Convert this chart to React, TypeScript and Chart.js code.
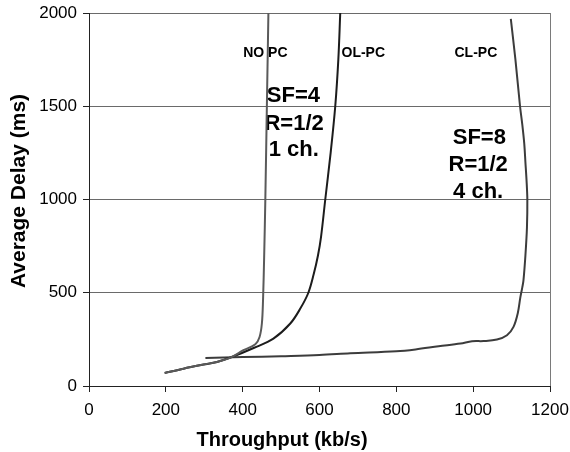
import React, { useEffect, useRef } from 'react';
import { Chart, registerables } from 'chart.js';

Chart.register(...registerables);

// ---- data (throughput kb/s, average delay ms) ----
const noPcThroughput = [197, 246, 298, 333, 368, 402, 433, 444, 450, 453, 456, 459, 463, 467];
const noPcDelay = [70, 93, 115, 129, 152, 192, 224, 263, 335, 460, 700, 1000, 1500, 2000];

const olPcThroughput = [197, 246, 298, 333, 370, 430, 480, 524, 550, 571, 585, 596, 604, 615, 629, 641, 649, 654];
const olPcDelay = [70, 93, 115, 129, 154, 205, 254, 335, 415, 500, 600, 700, 800, 1000, 1250, 1500, 1750, 2000];

const clPcThroughput = [303, 400, 500, 600, 680, 800, 850, 910, 967, 997, 1027, 1062, 1088, 1105, 1116, 1123, 1128, 1131, 1136, 1140, 1141, 1139, 1136, 1133, 1128, 1122, 1110, 1098];
const clPcDelay = [150, 155, 160, 166, 175, 186, 196, 213, 228, 240, 241, 249, 272, 317, 389, 478, 530, 568, 700, 850, 1000, 1100, 1200, 1300, 1400, 1500, 1750, 1968];

const seriesNames = ['NO PC', 'OL-PC', 'CL-PC'];
const seriesColors = ['#5a5a5a', '#1c1c1c', '#3c3c3c'];

const xTickValues = [0, 200, 400, 600, 800, 1000, 1200];
const yTickValues = [0, 500, 1000, 1500, 2000];

const xTitle = 'Throughput (kb/s)';
const yTitle = 'Average Delay (ms)';

// annotation texts anchored in data coordinates
const noteTexts = ['NO PC', 'OL-PC', 'CL-PC', 'SF=4', 'R=1/2', '1 ch.', 'SF=8', 'R=1/2', '4 ch.'];
const noteX = [459, 714, 1007, 532, 534, 533, 1016, 1013, 1013];
const noteY = [1786, 1786, 1786, 1555, 1407, 1265, 1330, 1185, 1040];
const noteSize = [14, 14, 14, 22, 22, 22, 22, 22, 22];

const FONT = '"Liberation Sans", Arial, Helvetica, sans-serif';

function toPoints(xs: number[], ys: number[]) {
  return xs.map((x, i) => ({ x, y: ys[i] }));
}

const textPlugin = {
  id: 'textPlugin',
  beforeDraw(chart: any) {
    const { ctx, scales } = chart;
    const xs = scales.x;
    const ys = scales.y;
    ctx.save();
    ctx.fillStyle = '#000';
    ctx.textAlign = 'center';
    ctx.textBaseline = 'middle';
    noteTexts.forEach((t, i) => {
      ctx.font = `bold ${noteSize[i]}px ${FONT}`;
      ctx.fillText(t, xs.getPixelForValue(noteX[i]), ys.getPixelForValue(noteY[i]));
    });
    // axis titles
    ctx.font = `bold 20px ${FONT}`;
    ctx.fillText(xTitle, 282, 440);
    ctx.translate(19, 191);
    ctx.rotate(-Math.PI / 2);
    ctx.font = `bold 21px ${FONT}`;
    ctx.fillText(yTitle, 0, 0);
    ctx.restore();
  },
};

export default function App() {
  const ref = useRef<HTMLCanvasElement | null>(null);

  useEffect(() => {
    if (!ref.current) return;
    const datasets = [
      toPoints(noPcThroughput, noPcDelay),
      toPoints(olPcThroughput, olPcDelay),
      toPoints(clPcThroughput, clPcDelay),
    ].map((data, i) => ({
      label: seriesNames[i],
      data,
      showLine: true,
      borderColor: seriesColors[i],
      backgroundColor: seriesColors[i],
      borderWidth: 2,
      pointRadius: 0,
      tension: 0.35,
      fill: false,
    }));

    const chart = new Chart(ref.current, {
      type: 'scatter',
      data: { datasets },
      plugins: [textPlugin],
      options: {
        responsive: false,
        animation: false,
        layout: { padding: { top: 13, right: 20, left: 0, bottom: 0 } },
        plugins: {
          legend: { display: false },
          tooltip: { enabled: false },
        },
        scales: {
          x: {
            type: 'linear',
            min: 0,
            max: 1200,
            afterFit: (s: any) => {
              s.height = 66;
              s.paddingLeft = 0;
              s.paddingRight = 0;
            },
            afterBuildTicks: (s: any) => {
              s.ticks = xTickValues.map((v) => ({ value: v }));
            },
            ticks: {
              color: '#000',
              padding: 8,
              maxRotation: 0,
              font: { family: FONT, size: 17 },
              callback: (v: any) => String(v),
            },
            grid: {
              drawOnChartArea: true,
              color: (c: any) => (c.tick && c.tick.value === 1200 ? '#7a7a7a' : 'rgba(0,0,0,0)'),
              tickColor: '#222',
              tickLength: 6,
              lineWidth: 1,
            },
            border: { color: '#222', width: 1 },
          },
          y: {
            type: 'linear',
            min: 0,
            max: 2000,
            afterFit: (s: any) => {
              s.width = 89;
              s.paddingTop = 0;
              s.paddingBottom = 0;
            },
            afterBuildTicks: (s: any) => {
              s.ticks = yTickValues.map((v) => ({ value: v }));
            },
            ticks: {
              color: '#000',
              padding: 6,
              font: { family: FONT, size: 17 },
              callback: (v: any) => String(v),
            },
            grid: {
              color: (c: any) => (c.tick && c.tick.value === 0 ? 'rgba(0,0,0,0)' : '#6a6a6a'),
              tickColor: '#222',
              tickLength: 6,
              lineWidth: 1,
            },
            border: { color: '#222', width: 1 },
          },
        },
      },
    });
    return () => chart.destroy();
  }, []);

  return (
    <div style={{ position: 'absolute', left: 0, top: 0, width: 570, height: 452, background: '#fff' }}>
      <canvas ref={ref} width={570} height={452} style={{ width: 570, height: 452 }} />
    </div>
  );
}
